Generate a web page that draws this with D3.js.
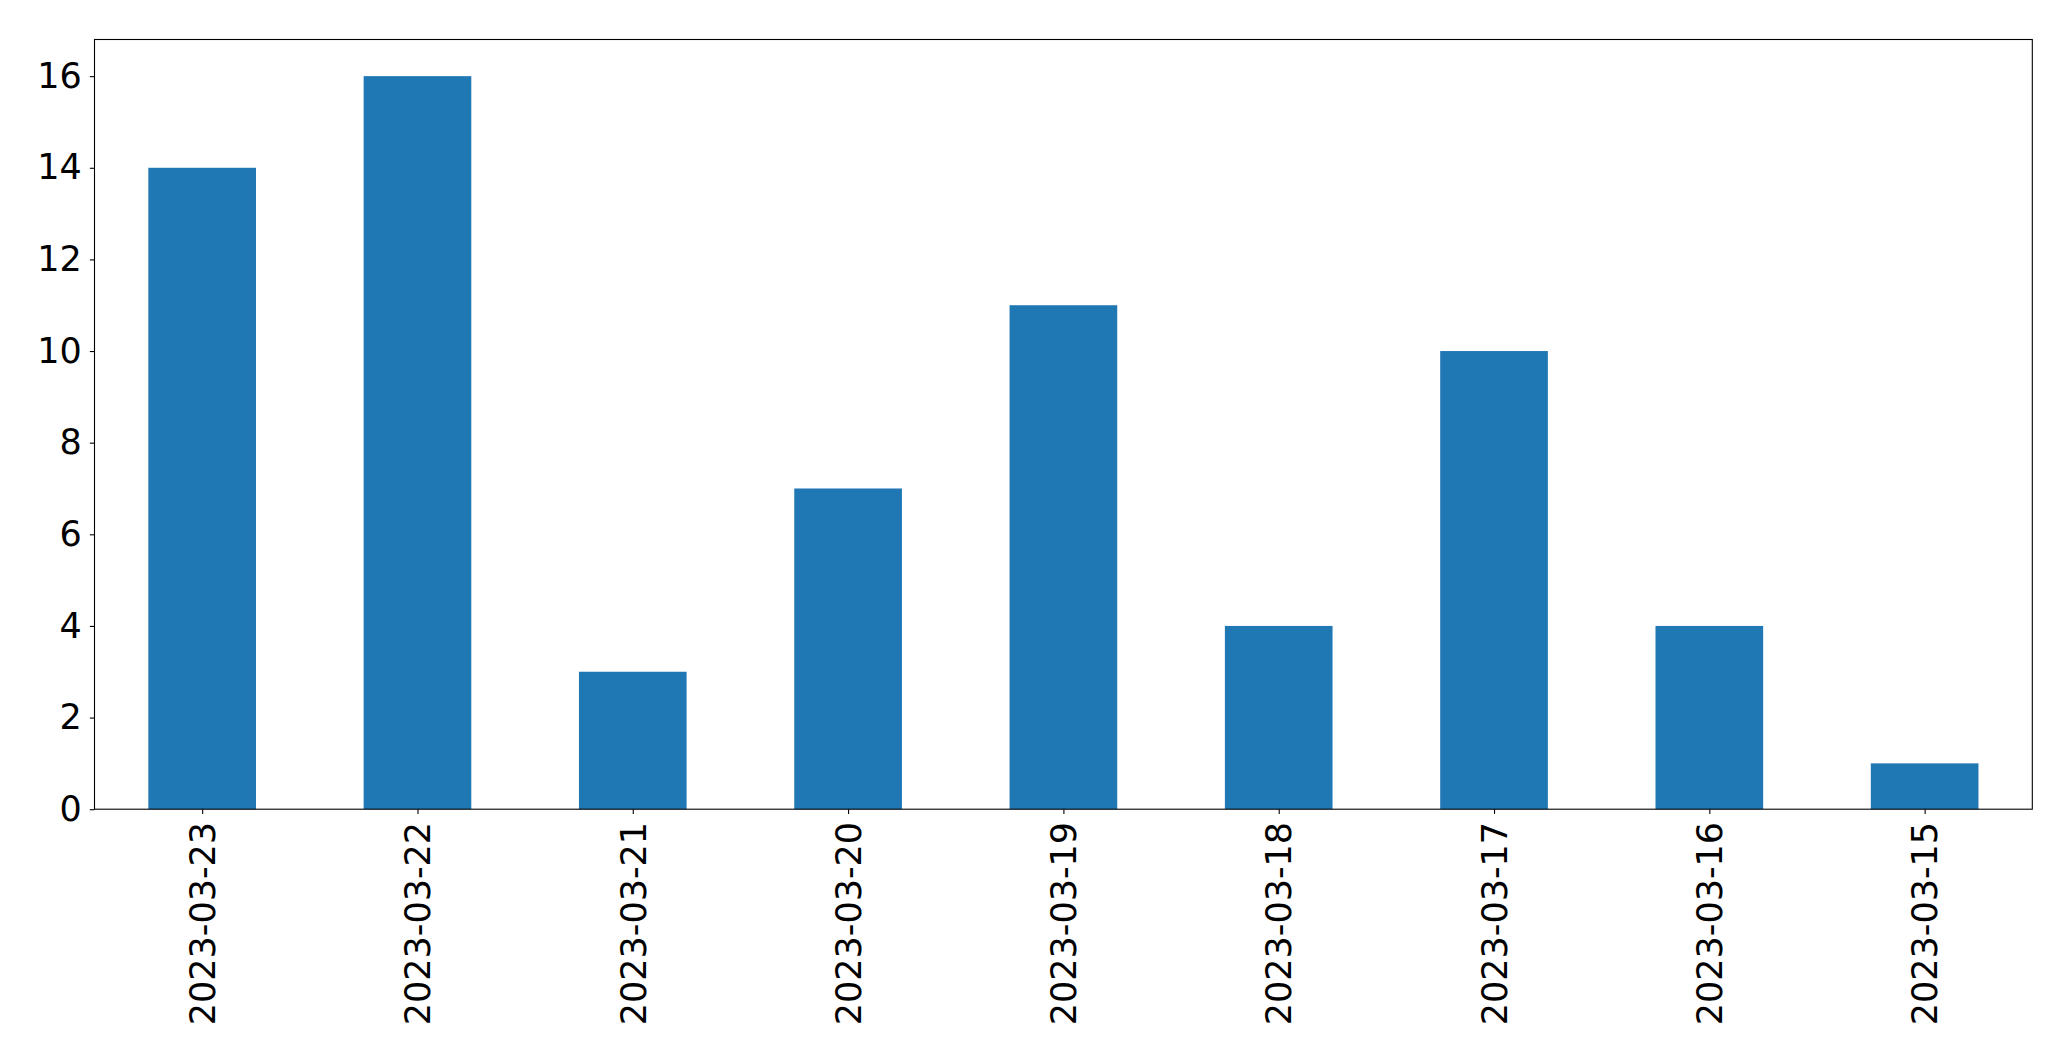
<!DOCTYPE html>
<html>
<head>
<meta charset="utf-8">
<script src="https://cdn.jsdelivr.net/npm/d3@7"></script>
<style>
  html, body { margin: 0; padding: 0; background: #fff; }
  svg { display: block; }
</style>
</head>
<body>
<script>
const categories = ["2023-03-23","2023-03-22","2023-03-21","2023-03-20","2023-03-19","2023-03-18","2023-03-17","2023-03-16","2023-03-15"];
const values = [14, 16, 3, 7, 11, 4, 10, 4, 1];
const yTicks = [0, 2, 4, 6, 8, 10, 12, 14, 16];

(function () {
const W = 2071, H = 1061;
const mLeft = 94.5, mRight = 2032.3, mTop = 39.5, mBottom = 809.2;
const fontSize = 35;
const font = "'DejaVu Sans', sans-serif";

const svg = d3.select("body").append("svg").attr("width", W).attr("height", H);

const x = d3.scaleLinear().domain([-0.5, categories.length - 0.5]).range([mLeft, mRight]);
const y = d3.scaleLinear().domain([0, 16.8]).range([mBottom, mTop]);
const barW = 0.5;

svg.append("g").selectAll("rect").data(values).join("rect")
  .attr("x", (d, i) => x(i - barW / 2))
  .attr("width", (d, i) => x(i + barW / 2) - x(i - barW / 2))
  .attr("y", d => y(d))
  .attr("height", d => y(0) - y(d))
  .attr("fill", "#1f77b4");

// Y axis
const yAxis = d3.axisLeft(y).tickValues(yTicks).tickSize(4.7).tickPadding(8).tickFormat(d3.format("d"));
const gy = svg.append("g").attr("transform", `translate(${mLeft},0)`).call(yAxis);
gy.select(".domain").remove();
gy.selectAll("line").attr("stroke", "#000").attr("stroke-width", 1.1);
gy.selectAll("text").attr("font-family", font).attr("font-size", fontSize).attr("fill", "#000");

// X axis
const xAxis = d3.axisBottom(x).tickValues(d3.range(categories.length)).tickSize(4.7).tickPadding(8).tickFormat(i => categories[i]);
const gx = svg.append("g").attr("transform", `translate(0,${mBottom})`).call(xAxis);
gx.select(".domain").remove();
gx.selectAll("line").attr("stroke", "#000").attr("stroke-width", 1.1);
gx.selectAll("text")
  .attr("font-family", font).attr("font-size", fontSize).attr("fill", "#000")
  .attr("transform", "translate(0,12.7) rotate(-90)")
  .attr("x", 0).attr("y", 0).attr("dy", "0.35em")
  .attr("text-anchor", "end");

// Frame
svg.append("rect")
  .attr("x", mLeft).attr("y", mTop)
  .attr("width", mRight - mLeft).attr("height", mBottom - mTop)
  .attr("fill", "none").attr("stroke", "#000").attr("stroke-width", 1.1);
})();
</script>
</body>
</html>
